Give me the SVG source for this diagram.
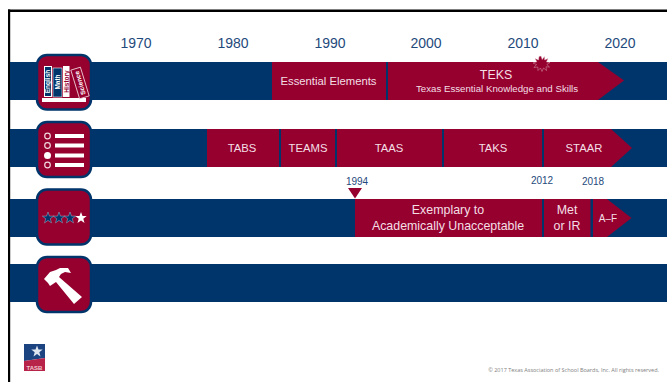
<svg xmlns="http://www.w3.org/2000/svg" width="667" height="382" viewBox="0 0 667 382">
<style>
text{font-family:"Liberation Sans",Arial,sans-serif}
.bar{fill:#00356b}
.seg{fill:#96002f}
.yr{font-size:14px;fill:#1f4a7c;text-anchor:middle}
.lb{font-size:11.300px;fill:#f3dfe4;text-anchor:middle}
.lb2{font-size:12.400px;fill:#f3dfe4;text-anchor:middle}
.sm{font-size:10px;fill:#1f4a7c;text-anchor:middle}
.box{fill:#96002f;stroke:#00356b;stroke-width:2.5}
.w{fill:#fff}
.sp{font-size:6.500px;font-weight:bold;text-anchor:middle}
</style>
<defs>
<polygon id="star" points="0,-6 1.5,-1.9 5.7,-1.9 2.3,0.7 3.5,4.9 0,2.4 -3.5,4.9 -2.3,0.7 -5.7,-1.9 -1.5,-1.9"/>
</defs>
<rect id="frame-top" x="8" y="9.500" width="659" height="2.500" fill="#000"/>
<rect id="frame-left" x="8" y="9.500" width="2.200" height="372.500" fill="#000"/>
<g id="years">
<text class="yr" x="136" y="48">1970</text>
<text class="yr" x="233" y="48">1980</text>
<text class="yr" x="330" y="48">1990</text>
<text class="yr" x="426" y="48">2000</text>
<text class="yr" x="523" y="48">2010</text>
<text class="yr" x="620" y="48">2020</text>
</g>
<g id="row1">
<rect class="bar" x="10" y="62" width="657" height="38"/>
<rect class="seg" x="272" y="62" width="114" height="38"/>
<polygon class="seg" points="388,62 598,62 624,80.500 598,100 388,100"/>
<text class="lb" x="328.500" y="85">Essential Elements</text>
<text class="lb2" x="496" y="79">TEKS</text>
<text x="497" y="92" font-size="9.700" fill="#f3dfe4" text-anchor="middle">Texas Essential Knowledge and Skills</text>
<polygon class="seg" stroke="#e9c9d2" stroke-width="0.400" points="541,56 542.200,59.500 544.500,56.500 544.700,60 548,58.500 546.500,62 550,62.500 546.800,64.500 549.500,67 546,66.800 546.500,70.500 543.500,68 542,71.500 540.500,68 538,70.500 537.800,67 534,67.500 536.500,64.500 533,63 536.800,61.800 535,58.500 538.500,60 539,56.500"/>
</g>
<g id="row2">
<rect class="bar" x="10" y="129" width="657" height="38"/>
<rect class="seg" x="207" y="129" width="72" height="38"/>
<rect class="seg" x="281" y="129" width="54" height="38"/>
<rect class="seg" x="337" y="129" width="105" height="38"/>
<rect class="seg" x="444" y="129" width="98" height="38"/>
<polygon class="seg" points="544,129 611,129 632,148 611,167 544,167"/>
<text class="lb" x="242" y="152">TABS</text>
<text class="lb" x="308" y="152">TEAMS</text>
<text class="lb" x="389" y="152">TAAS</text>
<text class="lb" x="493" y="152">TAKS</text>
<text class="lb" x="584" y="152">STAAR</text>
</g>
<g id="row3">
<rect class="bar" x="10" y="199" width="657" height="38"/>
<rect class="seg" x="355" y="199" width="187" height="38"/>
<rect class="seg" x="544" y="199" width="46.500" height="38"/>
<polygon class="seg" points="593,199 607,199 631.500,218 607,237 593,237"/>
<text class="lb2" x="448" y="214">Exemplary to</text>
<text class="lb2" x="448" y="230">Academically Unacceptable</text>
<text class="lb2" x="567" y="214">Met</text>
<text class="lb2" x="567" y="230">or IR</text>
<text x="608" y="222" font-size="10" fill="#f3dfe4" text-anchor="middle">A–F</text>
<polygon class="seg" points="348,188 362,188 355,198.500"/>
<text class="sm" x="357" y="185">1994</text>
<text class="sm" x="542" y="184">2012</text>
<text class="sm" x="593" y="185">2018</text>
</g>
<g id="row4">
<rect class="bar" x="10" y="264" width="657" height="38"/>
</g>
<g id="icon-books">
<rect class="box" x="37" y="55" width="54" height="54.500" rx="10"/>
<rect class="w" x="42" y="98" width="44" height="4"/>
<rect x="44" y="66" width="8" height="31" fill="#fff"/>
<rect x="45" y="67" width="6" height="29" fill="#00356b"/>
<text class="sp" fill="#fff" transform="translate(50.300 81.500) rotate(-90)">English</text>
<rect x="53" y="68" width="9" height="29" fill="#00356b" stroke="#fff" stroke-width="0.600"/>
<text class="sp" fill="#fff" transform="translate(60 82) rotate(-90)">Math</text>
<rect class="w" x="63" y="66" width="6.500" height="31"/>
<text class="sp" fill="#96002f" transform="translate(68.800 81.500) rotate(-90)">History</text>
<g transform="rotate(-17 80 83)">
<rect x="75" y="68" width="10" height="30" fill="#96002f" stroke="#f0d8de" stroke-width="0.800"/>
<text class="sp" fill="#fff" transform="translate(82.300 83) rotate(-90)">Science</text>
</g>
</g>
<g id="icon-list">
<rect class="box" x="37" y="122" width="54" height="55" rx="10"/>
<circle cx="47.500" cy="136" r="2.800" fill="none" stroke="#f0d8de" stroke-width="1.200"/>
<circle cx="47.500" cy="145.500" r="2.800" fill="none" stroke="#f0d8de" stroke-width="1.200"/>
<circle class="w" cx="47.500" cy="155.500" r="3.500"/>
<circle cx="47.500" cy="165" r="2.800" fill="none" stroke="#f0d8de" stroke-width="1.200"/>
<rect class="w" x="55" y="134" width="29" height="4"/>
<rect class="w" x="55" y="143.500" width="29" height="4"/>
<rect class="w" x="55" y="153.500" width="29" height="4"/>
<rect class="w" x="55" y="163" width="29" height="4"/>
</g>
<g id="icon-stars">
<rect class="box" x="37" y="189.500" width="54" height="55" rx="10"/>
<use href="#star" x="48" y="218" fill="#00356b" stroke="#a9b4c8" stroke-width="0.500"/>
<use href="#star" x="59" y="218" fill="#00356b" stroke="#a9b4c8" stroke-width="0.500"/>
<use href="#star" x="70" y="218" fill="#00356b" stroke="#a9b4c8" stroke-width="0.500"/>
<use href="#star" x="81" y="218" fill="#fff"/>
</g>
<g id="icon-hammer">
<rect class="box" x="37" y="257" width="54" height="55" rx="10"/>
<polygon class="w" points="44,279 50,272 56,270 60,268 68,268 71,273 65,272 61,274 59,277 82,297 74,304 56,282 50,286 48,283"/>
</g>
<g id="logo">
<polygon points="24,344 45,344 45,358 24,361" fill="#1c4480"/>
<polygon points="24,361 45,358 45,371 24,371" fill="#b8234a"/>
<use href="#star" x="37" y="351.500" fill="#dfe6f0"/>
<text x="34.500" y="370" font-size="6" font-weight="bold" fill="#f0c8d0" text-anchor="middle">TASB</text>
</g>
<text id="copyright" x="659" y="372" font-size="5.500" fill="#808080" text-anchor="end" style="font-family:'Open Sans','Liberation Sans',sans-serif">© 2017 Texas Association of School Boards, Inc. All rights reserved.</text>
</svg>
